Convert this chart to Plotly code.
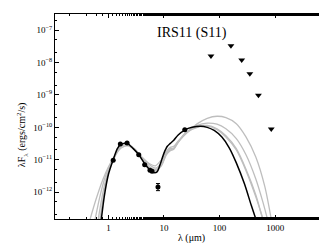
import plotly.graph_objects as go

# ---- data ----
lam_obs = [1.22, 1.64, 2.17, 3.52, 4.5, 5.6, 6.1, 7.8, 23.7]
F_obs = [9.6e-12, 3.05e-11, 3.3e-11, 1.42e-11, 7.0e-12, 4.7e-12, 4.4e-12, 1.44e-12, 8.4e-11]
err_plus = [0, 0, 0, 0, 0, 0, 0, 0.4e-12, 0]
err_minus = [0, 0, 0, 0, 0, 0, 0, 0.33e-12, 0]

lam_ul = [70, 160, 250, 350, 500, 850]
F_ul = [1.6e-8, 3.3e-8, 1.2e-8, 4.5e-9, 9.8e-10, 8.9e-11]

lam_best = [0.74, 0.85, 1.0, 1.22, 1.45, 1.65, 1.9, 2.2, 2.8, 3.5, 4.5, 5.6, 6.5, 7.5, 8.5, 10, 11.5, 13, 15, 18, 24, 32, 45, 60, 80, 110, 150, 200, 280, 370, 460]
F_best = [1.3e-13, 8e-13, 3.5e-12, 1.0e-11, 2.2e-11, 3.0e-11, 3.2e-11, 3.2e-11, 2.2e-11, 1.45e-11, 7.5e-12, 4.8e-12, 4.0e-12, 4.2e-12, 7e-12, 1.6e-11, 2.6e-11, 3.2e-11, 4.0e-11, 5.8e-11, 8.4e-11, 1.0e-10, 1.08e-10, 1.0e-10, 8e-11, 5e-11, 2.3e-11, 8e-12, 1.8e-12, 4e-13, 1.3e-13]

lam_g1 = [0.46, 0.6, 0.8, 1.0, 1.3, 1.7, 2.2, 3.0, 4.0, 5.5, 7, 9, 11, 13, 15, 18, 25, 40, 60, 90, 130, 200, 300, 450, 650, 860]
F_g1 = [1.3e-13, 6e-13, 2.5e-12, 6e-12, 1.3e-11, 2.3e-11, 2.7e-11, 2.0e-11, 1.2e-11, 7.5e-12, 6.5e-12, 1.0e-11, 1.8e-11, 2.4e-11, 2.6e-11, 3.8e-11, 6.5e-11, 1.3e-10, 1.9e-10, 2.2e-10, 2.0e-10, 1.3e-10, 5e-11, 1.2e-11, 1.5e-12, 1.3e-13]

lam_g2 = [0.57, 0.7, 0.85, 1.0, 1.3, 1.7, 2.2, 3.0, 4.0, 5.5, 7, 9, 11, 13, 15, 18, 25, 40, 60, 90, 130, 200, 300, 450, 600, 740]
F_g2 = [1.3e-13, 7e-13, 2.5e-12, 5.5e-12, 1.3e-11, 2.6e-11, 3.0e-11, 2.1e-11, 1.2e-11, 7e-12, 5.5e-12, 8e-12, 1.6e-11, 2.2e-11, 2.3e-11, 3.5e-11, 6.5e-11, 1.15e-10, 1.35e-10, 1.25e-10, 9e-11, 4.5e-11, 1.4e-11, 2.5e-12, 5e-13, 1.3e-13]

lam_g3 = [0.65, 0.8, 1.0, 1.3, 1.7, 2.2, 3.0, 4.0, 5.5, 7, 9, 11, 13, 15, 18, 25, 40, 60, 90, 130, 200, 300, 450, 605]
F_g3 = [1.3e-13, 1e-12, 4.5e-12, 1.2e-11, 2.6e-11, 3.0e-11, 2.0e-11, 1.1e-11, 6e-12, 5e-12, 7e-12, 1.5e-11, 2.0e-11, 2.2e-11, 3.6e-11, 7e-11, 1.05e-10, 1.15e-10, 9e-11, 5.5e-11, 2.2e-11, 5e-12, 8e-13, 1.3e-13]

lam_g4 = [0.7, 0.85, 1.0, 1.3, 1.7, 2.2, 3.0, 4.0, 5.5, 7, 9, 11, 13, 15, 18, 25, 40, 60, 90, 130, 200, 300, 450, 620]
F_g4 = [1.3e-13, 1.2e-12, 4e-12, 1.3e-11, 2.8e-11, 3.1e-11, 2.1e-11, 1.15e-11, 5.5e-12, 4.6e-12, 6.5e-12, 1.4e-11, 1.9e-11, 2.1e-11, 3.4e-11, 6.8e-11, 1.0e-10, 1.1e-10, 8.5e-11, 5e-11, 2e-11, 4.5e-12, 7e-13, 1.3e-13]

x_tickvals = [1, 10, 100, 1000]
x_ticktext = ["1", "10", "100", "1000"]
y_tickvals = [1e-12, 1e-11, 1e-10, 1e-9, 1e-8, 1e-7]
y_ticktext = ["10<sup>\u221212</sup>", "10<sup>\u221211</sup>", "10<sup>\u221210</sup>",
              "10<sup>\u22129</sup>", "10<sup>\u22128</sup>", "10<sup>\u22127</sup>"]

FONT = "Liberation Serif"
GREY = "rgb(190,190,190)"

fig = go.Figure()
for lx, fy in [(lam_g1, F_g1), (lam_g2, F_g2), (lam_g3, F_g3), (lam_g4, F_g4)]:
    fig.add_trace(go.Scatter(x=lx, y=fy, mode="lines",
                             line=dict(color=GREY, width=1.3, shape="spline", smoothing=0.8),
                             showlegend=False, hoverinfo="skip"))
fig.add_trace(go.Scatter(x=lam_best, y=F_best, mode="lines",
                         line=dict(color="black", width=1.5, shape="spline", smoothing=0.8),
                         showlegend=False))
fig.add_trace(go.Scatter(x=lam_obs, y=F_obs, mode="markers",
                         marker=dict(color="black", size=5, symbol="circle"),
                         error_y=dict(type="data", array=err_plus, arrayminus=err_minus,
                                      color="black", thickness=1, width=2),
                         showlegend=False))
fig.add_trace(go.Scatter(x=lam_ul, y=F_ul, mode="markers",
                         marker=dict(color="black", size=6, symbol="triangle-down"),
                         showlegend=False))

axis_common = dict(showgrid=False, zeroline=False, showline=True, linecolor="black",
                   linewidth=1, mirror="allticks", ticks="inside", ticklen=4,
                   tickcolor="black", tickwidth=1,
                   tickfont=dict(family=FONT, size=9, color="black"),
                   minor=dict(ticks="inside", ticklen=2, tickcolor="black", showgrid=False))

fig.update_xaxes(type="log", range=[-0.96, 3.95], tickmode="array",
                 tickvals=x_tickvals, ticktext=x_ticktext, **axis_common)
fig.update_yaxes(type="log", range=[-12.83, -6.5], tickmode="array",
                 tickvals=y_tickvals, ticktext=y_ticktext, **axis_common)

fig.update_layout(
    width=327, height=243,
    margin=dict(l=47, r=7, t=6, b=32),
    paper_bgcolor="white", plot_bgcolor="white",
    font=dict(family=FONT, color="black"),
    annotations=[
        dict(text="IRS11 (S11)", x=0.502, y=0.956, xref="paper", yref="paper",
             showarrow=False, font=dict(family=FONT, size=14, color="black")),
        dict(text="\u03bb (\u03bcm)", x=0.5, y=-0.093, xref="paper", yref="paper",
             showarrow=False, yanchor="middle", font=dict(family=FONT, size=10, color="black")),
        dict(text="\u03bbF<sub>\u03bb</sub> (ergs/cm<sup>2</sup>/s)", x=-0.12, y=0.41,
             xref="paper", yref="paper", textangle=-90, showarrow=False,
             xanchor="center", yanchor="middle",
             font=dict(family=FONT, size=10, color="black")),
    ],
)

fig.write_html("out.html")
